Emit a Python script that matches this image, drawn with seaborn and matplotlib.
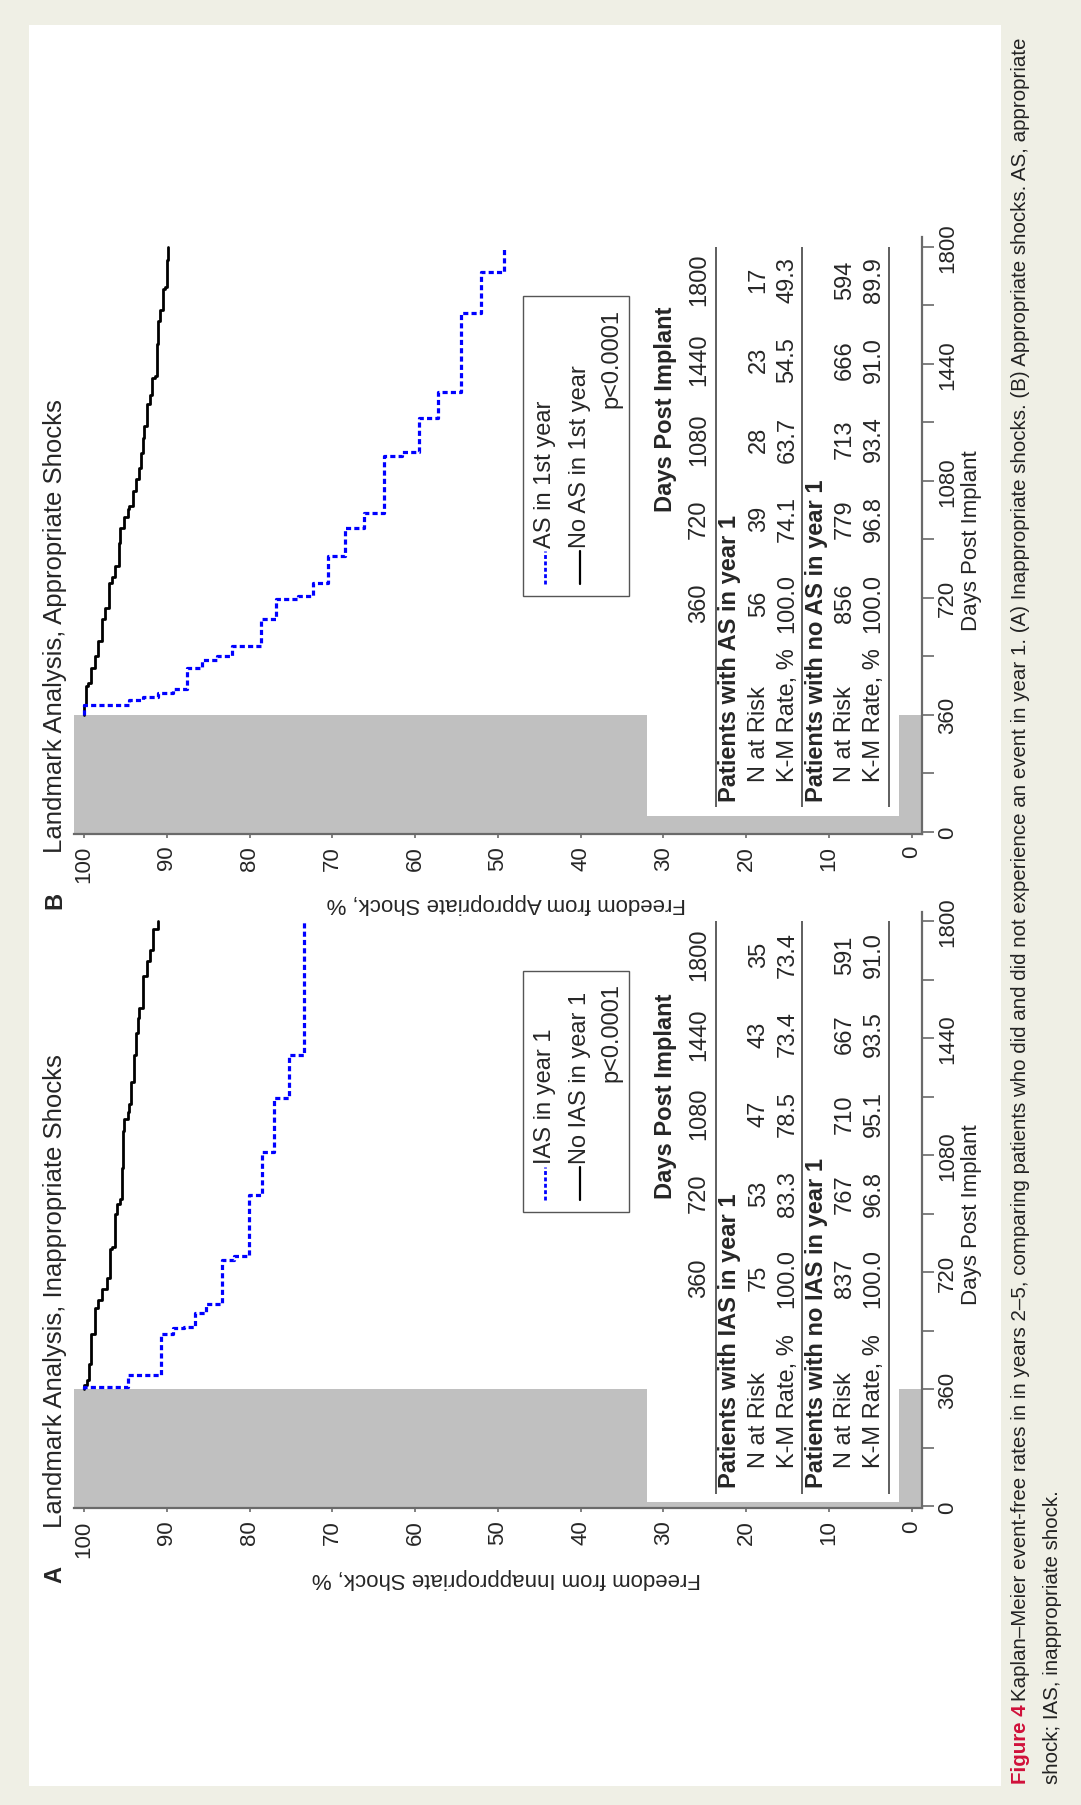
import matplotlib
matplotlib.use("Agg")
import matplotlib.pyplot as plt
from matplotlib.patches import Rectangle
import pandas as pd
import seaborn as sns

W, H = 1081, 1806

# ---- data -----------------------------------------------------------------
pct_ticks = [0, 10, 20, 30, 40, 50, 60, 70, 80, 90, 100]
day_ticks = [0, 360, 720, 1080, 1440, 1800]
day_minor = [180, 540, 900, 1260, 1620]

# panel A, inappropriate shocks
ias_days = [360, 368, 405, 530, 548, 553, 596, 623, 757, 770, 959, 1090, 1255, 1390, 1800]
ias_surv = [100.0, 94.7, 90.7, 89.3, 87.9, 86.6, 85.3, 83.3, 81.9, 80.1, 78.5, 77.0, 75.2, 73.4, 73.4]
no_ias_days = [360, 372, 390, 437, 530, 611, 634, 669, 704, 791, 797, 901, 930, 947, 1040,
               1156, 1191, 1214, 1237, 1307, 1388, 1457, 1504, 1533, 1631, 1678, 1712, 1775, 1800]
no_ias_surv = [100.0, 99.6, 99.4, 99.1, 98.7, 98.3, 97.8, 97.2, 96.8, 96.6, 96.2, 96.0, 95.6, 95.4, 95.3,
               95.1, 94.7, 94.5, 94.3, 93.9, 93.7, 93.5, 93.3, 92.9, 92.4, 92.0, 91.6, 91.0, 91.0]

# panel B, appropriate shocks
as_days = [360, 391, 406, 415, 427, 440, 505, 528, 540, 572, 655, 716, 725, 765, 847, 934, 980,
           1155, 1170, 1272, 1353, 1597, 1722, 1800]
as_surv = [100.0, 94.6, 92.9, 91.1, 89.3, 87.5, 85.7, 83.9, 82.1, 78.6, 76.8, 74.1, 72.3, 70.5, 68.5,
           66.2, 63.7, 61.6, 59.5, 57.2, 54.5, 52.0, 49.3, 49.3]
no_as_days = [360, 389, 447, 459, 505, 540, 586, 655, 690, 766, 783, 818, 887, 934, 968, 992, 1003,
              1050, 1084, 1119, 1165, 1212, 1247, 1316, 1345, 1397, 1403, 1502, 1571, 1606, 1670,
              1675, 1760, 1800]
no_as_surv = [100.0, 99.7, 99.5, 99.1, 98.7, 98.3, 97.8, 97.4, 97.0, 96.6, 96.2, 95.8, 95.6, 95.1,
              94.7, 94.5, 94.1, 93.7, 93.4, 93.1, 92.9, 92.7, 92.4, 92.0, 91.8, 91.4, 91.2, 91.0,
              90.8, 90.4, 90.2, 90.0, 89.9, 89.9]

# number-at-risk tables
table_cols = ["360", "720", "1080", "1440", "1800"]
ias_n = ["75", "53", "47", "43", "35"]
ias_km = ["100.0", "83.3", "78.5", "73.4", "73.4"]
no_ias_n = ["837", "767", "710", "667", "591"]
no_ias_km = ["100.0", "96.8", "95.1", "93.5", "91.0"]
as_n = ["56", "39", "28", "23", "17"]
as_km = ["100.0", "74.1", "63.7", "54.5", "49.3"]
no_as_n = ["856", "779", "713", "666", "594"]
no_as_km = ["100.0", "96.8", "93.4", "91.0", "89.9"]

caption_1 = ("Kaplan\u2013Meier event-free rates in in years 2\u20135, comparing patients who did and did "
             "not experience an event in year 1. (A) Inappropriate shocks. (B) Appropriate shocks. AS, appropriate")
caption_2 = "shock; IAS, inappropriate shock."

# ---- layout constants -----------------------------------------------------
GRAY = "#c0c0c0"
AXC = "#6a6a6a"
BLUE = "#0000ff"
col_days = [705, 965, 1210, 1455, 1700]   # where the table columns sit (in days)
FS = 16
TFS = 17

sns.set_style("white")
plt.rcParams["font.family"] = ["Liberation Sans", "DejaVu Sans"]
plt.rcParams["font.size"] = FS

fig = plt.figure(figsize=(W / 100, H / 100), dpi=100, facecolor="#efefe5")
fig.add_artist(Rectangle((29 / W, 1 - 1787 / H), (1001 - 29) / W, (1787 - 26) / H,
                         transform=fig.transFigure, facecolor="white", edgecolor="none", zorder=-5))


def panel(bottom_px, letter, title, xlabel, ev, noev, leg_labels, leg_bottom, shift, box_bottom,
          grp_labels, rows):
    ax = fig.add_axes([74 / W, (H - bottom_px) / H, (921.7 - 74) / W, 596.7 / H])
    ax.set_facecolor("none")
    ax.axhspan(-6, 360, color=GRAY, lw=0, zorder=0)

    sns.lineplot(data=pd.DataFrame({"d": noev[0], "s": noev[1]}), x="s", y="d", orient="y",
                 estimator=None, drawstyle="steps-pre", color="black", lw=2.0, ax=ax, legend=False)
    sns.lineplot(data=pd.DataFrame({"d": ev[0], "s": ev[1]}), x="s", y="d", orient="y",
                 estimator=None, drawstyle="steps-pre", color=BLUE, lw=2.3,
                 linestyle=(0, (1.6, 1.0)), ax=ax, legend=False)

    ax.set_xlim(101.2, -1.2)
    ax.set_ylim(-6, 1830)
    ax.set(xlabel="", ylabel="")
    for s in ["top", "left"]:
        ax.spines[s].set_visible(False)
    for s in ["bottom", "right"]:
        ax.spines[s].set_color(AXC)
        ax.spines[s].set_linewidth(1.6)

    ax.set_xticks(pct_ticks)
    ax.set_xticklabels([str(v) for v in pct_ticks], rotation=90, fontsize=FS)
    ax.yaxis.tick_right()
    ax.set_yticks(day_ticks)
    ax.set_yticks(day_minor, minor=True)
    ax.set_yticklabels([str(v) for v in day_ticks], rotation=90, va="center", fontsize=FS)
    ax.tick_params(axis="x", length=3, width=1.2, color=AXC, pad=5, bottom=True)
    ax.tick_params(axis="y", which="both", length=8.6, width=1.2, color=AXC, pad=2.5,
                   right=True, left=False)

    ax.annotate(xlabel, xy=(49, 0), xycoords=ax.get_xaxis_transform(), xytext=(0, -49.5),
                textcoords="offset points", rotation=180, ha="center", va="center", fontsize=FS)
    ax.annotate("Days Post Implant", xy=(1, 900), xycoords=ax.get_yaxis_transform(),
                xytext=(36.2, 0), textcoords="offset points", rotation=90, ha="center",
                va="center", fontsize=FS)

    off = 1509.3 - bottom_px
    fig.text(55 / W, 1 - (1528 - off) / H, title, rotation=90, ha="center", va="bottom", fontsize=18.5)
    fig.text(55 / W, 1 - (1575 - off) / H, letter, rotation=90, ha="center", va="center",
             fontsize=17, weight="bold")

    # legend box
    ax.add_patch(Rectangle((34.2, leg_bottom), 12.8, 1648 - leg_bottom, facecolor="white",
                           edgecolor="#555555", lw=1.0, zorder=4))
    samp0 = leg_bottom + 38
    ax.plot([44.3, 44.3], [samp0, samp0 + 100], color=BLUE, lw=2.0, ls=(0, (1.4, 0.9)), zorder=5)
    ax.plot([40.1, 40.1], [samp0, samp0 + 100], color="black", lw=1.6, zorder=5)
    ax.text(44.3, samp0 + 112, leg_labels[0], rotation=90, ha="center", va="bottom", fontsize=TFS, zorder=5)
    ax.text(40.1, samp0 + 112, leg_labels[1], rotation=90, ha="center", va="bottom", fontsize=TFS, zorder=5)
    ax.text(36.3, 1613, "p<0.0001", rotation=90, ha="center", va="top", fontsize=TFS, zorder=5)

    # number-at-risk table
    ax.add_patch(Rectangle((1.5, box_bottom), 30.5, 2000, facecolor="white", edgecolor="none", zorder=1.5))
    ax.text(29.7, 950 + shift, "Days Post Implant", rotation=90, ha="center", va="bottom",
            fontsize=TFS, weight="bold", zorder=3)
    for d, lab in zip(col_days, table_cols):
        ax.text(25.7, d, lab, rotation=90, ha="center", va="center", fontsize=TFS, zorder=3)
    ax.vlines([23.6, 13.2, 2.8], 38 + shift, 1800, color="#333333", lw=1.1, zorder=3)
    for gx, glab in zip([22.0, 11.5], grp_labels):
        ax.text(gx, 58 + shift, glab, rotation=90, ha="center", va="bottom", fontsize=TFS,
                weight="bold", zorder=3)
    for rx, (rlab, vals) in zip([18.5, 15.0, 8.1, 4.6], rows):
        ax.text(rx, 120 + shift, rlab, rotation=90, ha="center", va="bottom", fontsize=TFS, zorder=3)
        for d, v in zip(col_days, vals):
            ax.text(rx, d, v, rotation=90, ha="center", va="center", fontsize=TFS, zorder=3)
    return ax


panel(1509.3, "A", "Landmark Analysis, Inappropriate Shocks",
      "Freedom from Innappropriate Shock, %", (ias_days, ias_surv), (no_ias_days, no_ias_surv),
      ["IAS in year 1", "No IAS in year 1"], 906, 0, 12,
      ["Patients with IAS in year 1", "Patients with no IAS in year 1"],
      [("N at Risk", ias_n), ("K-M Rate, %", ias_km), ("N at Risk", no_ias_n), ("K-M Rate, %", no_ias_km)])

panel(834.7, "B", "Landmark Analysis, Appropriate Shocks",
      "Freedom from Appropriate Shock, %", (as_days, as_surv), (no_as_days, no_as_surv),
      ["AS in 1st year", "No AS in 1st year"], 725, 37, 49,
      ["Patients with AS in year 1", "Patients with no AS in year 1"],
      [("N at Risk", as_n), ("K-M Rate, %", as_km), ("N at Risk", no_as_n), ("K-M Rate, %", no_as_km)])

# ---- caption, fitted to the reference line length --------------------------
cap_fam = ["Liberation Sans Narrow", "Liberation Sans", "DejaVu Sans"]
renderer = fig.canvas.get_renderer()
probe = fig.text(0, 0, "Figure 4 " + caption_1, fontsize=10, rotation=90, family=cap_fam)
L10 = probe.get_window_extent(renderer).height
probe.remove()
cfs = 10 * (1784 - 30) / L10

y0 = 1784
t1 = fig.text(1020 / W, 1 - y0 / H, "Figure 4", rotation=90, ha="center", va="bottom",
              fontsize=cfs, weight="bold", color="#d0103a", family=cap_fam)
h1 = t1.get_window_extent(renderer).height
fig.text(1020 / W, 1 - (y0 - h1 - 0.25 * cfs) / H, caption_1, rotation=90, ha="center", va="bottom",
         fontsize=cfs, color="#222222", family=cap_fam)
fig.text(1053 / W, 1 - y0 / H, caption_2, rotation=90, ha="center", va="bottom",
         fontsize=cfs, color="#222222", family=cap_fam)

fig.savefig("out.png", dpi=100, facecolor=fig.get_facecolor())
